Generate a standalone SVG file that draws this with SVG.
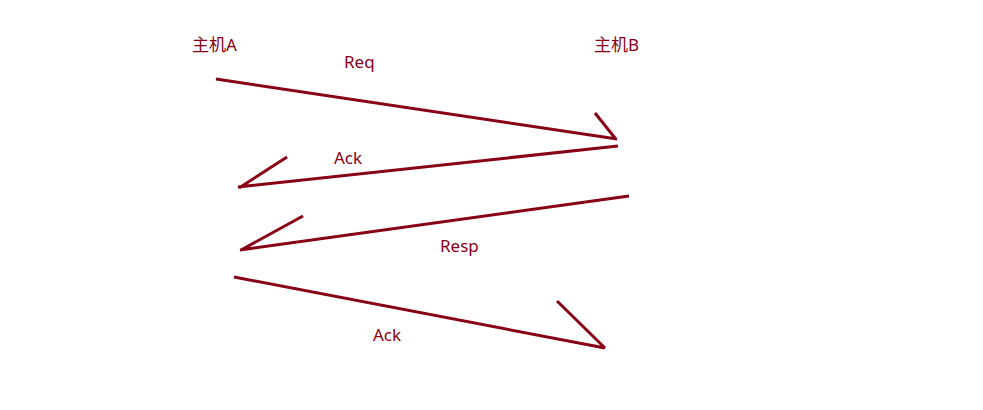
<svg xmlns="http://www.w3.org/2000/svg" width="983" height="410" viewBox="0 0 983 410">
<style>
.l{stroke:#880015;stroke-width:3;fill:none;stroke-linecap:butt}
.t{fill:#880015;font-family:"Noto Sans","Noto Sans CJK SC",sans-serif;font-size:17px}
</style>
<rect width="983" height="410" fill="#fff"/>
<g id="hostA"><text class="t" x="192" y="51">主机A</text></g>
<g id="hostB"><text class="t" x="594" y="51">主机B</text></g>
<g id="connectors">
<g id="req"><path class="l" d="M216,79 L617,139 M595,113 L615,138"/><text class="t" x="344" y="68">Req</text></g>
<g id="ack1"><path class="l" d="M618,146 L238,187 M287,157 L239,188"/><text class="t" x="334" y="164">Ack</text></g>
<g id="resp"><path class="l" d="M629,196 L240,250 M303,216 L241,250"/><text class="t" x="440" y="252">Resp</text></g>
<g id="ack2"><path class="l" d="M234,277 L605,348 M557,301 L605,348"/><text class="t" x="373" y="341">Ack</text></g>
</g>
</svg>
